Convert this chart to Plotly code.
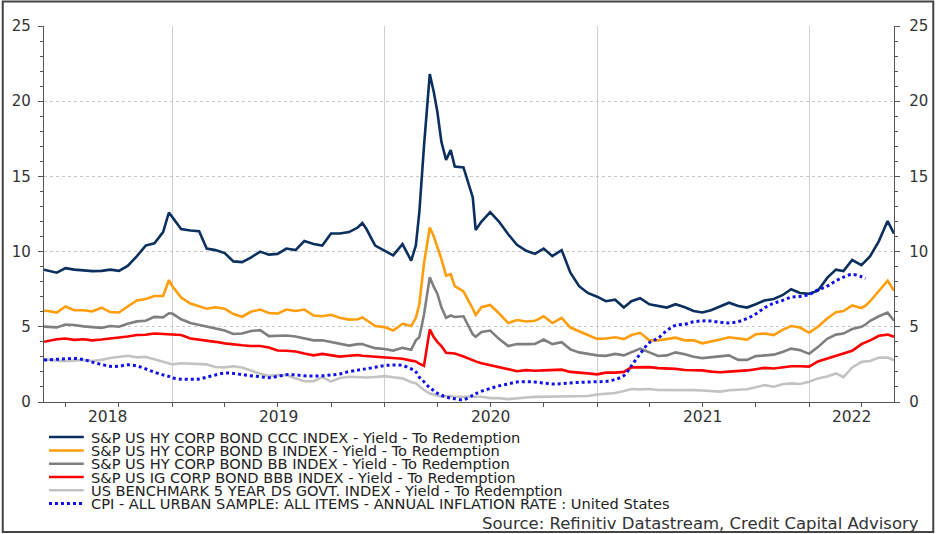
import pandas as pd
import plotly.graph_objects as go

# Observation dates (roughly semi-monthly, denser around the March 2020 spike)
dates = [
    "2018-05-25", "2018-06-01", "2018-06-16", "2018-07-01", "2018-07-16", "2018-08-01", "2018-08-16", "2018-09-01",
    "2018-09-16", "2018-10-01", "2018-10-16", "2018-11-01", "2018-11-16", "2018-12-01", "2018-12-16", "2018-12-26",
    "2019-01-01", "2019-01-16", "2019-02-01", "2019-02-16", "2019-03-01", "2019-03-16", "2019-04-01", "2019-04-16",
    "2019-05-01", "2019-05-16", "2019-06-01", "2019-06-16", "2019-07-01", "2019-07-16", "2019-08-01", "2019-08-16",
    "2019-09-01", "2019-09-16", "2019-10-01", "2019-10-16", "2019-11-01", "2019-11-16", "2019-11-24", "2019-12-01",
    "2019-12-16",
    "2020-01-01", "2020-01-16", "2020-02-01", "2020-02-16", "2020-02-24", "2020-03-01", "2020-03-09", "2020-03-19",
    "2020-03-26", "2020-04-01", "2020-04-08", "2020-04-16", "2020-04-24", "2020-05-01", "2020-05-16", "2020-06-01",
    "2020-06-06", "2020-06-16", "2020-07-01", "2020-07-16", "2020-08-01", "2020-08-16", "2020-09-01", "2020-09-16",
    "2020-10-01", "2020-10-16", "2020-11-01", "2020-11-16", "2020-12-01", "2020-12-16",
    "2021-01-01", "2021-01-16", "2021-02-01", "2021-02-16", "2021-03-01", "2021-03-16", "2021-04-01", "2021-04-16",
    "2021-05-01", "2021-05-16", "2021-06-01", "2021-06-16", "2021-07-01", "2021-07-16", "2021-08-01", "2021-08-16",
    "2021-09-01", "2021-09-16", "2021-10-01", "2021-10-16", "2021-11-01", "2021-11-16", "2021-12-01", "2021-12-16",
    "2022-01-01", "2022-01-16", "2022-02-01", "2022-02-16", "2022-03-01", "2022-03-16", "2022-04-01", "2022-04-08",
    "2022-04-16", "2022-05-01", "2022-05-16", "2022-05-27",
]

ccc = [
    8.8, 8.75, 8.6, 8.9, 8.8, 8.75, 8.7, 8.72, 8.8, 8.72, 9.05, 9.7, 10.4, 10.55, 11.3, 12.6,
    12.3, 11.5, 11.4, 11.35, 10.2, 10.1, 9.9, 9.35, 9.3, 9.6, 10.0, 9.8, 9.85, 10.2, 10.1, 10.7,
    10.5, 10.4, 11.2, 11.2, 11.3, 11.6, 11.9, 11.5, 10.4,
    10.05, 9.75, 10.5, 9.4, 10.4, 12.6, 17.0, 21.8, 20.6, 19.3, 17.3, 16.1, 16.75, 15.65, 15.6, 13.6,
    11.44, 12.0, 12.62, 12.0, 11.15, 10.45, 10.05, 9.85, 10.2, 9.7, 10.1, 8.6, 7.7, 7.25,
    7.0, 6.7, 6.8, 6.28, 6.7, 6.9, 6.5, 6.38, 6.28, 6.5, 6.3, 6.05, 5.95, 6.1, 6.35, 6.6,
    6.38, 6.28, 6.5, 6.75, 6.85, 7.1, 7.5, 7.25,
    7.2, 7.4, 8.25, 8.8, 8.7, 9.44, 9.1, 9.4, 9.7, 10.7, 12.03, 11.2,
]

hy_b = [
    6.07, 6.05, 5.95, 6.35, 6.1, 6.1, 6.02, 6.27, 5.98, 5.95, 6.35, 6.75, 6.85, 7.05, 7.05, 8.1,
    7.7, 6.95, 6.55, 6.35, 6.2, 6.3, 6.2, 5.85, 5.67, 6.0, 6.15, 5.92, 5.88, 6.15, 6.05, 6.15,
    5.75, 5.7, 5.8, 5.6, 5.48, 5.5, 5.62, 5.45, 5.05,
    4.98, 4.75, 5.2, 5.05, 5.6, 6.5, 9.2, 11.6, 11.0, 10.3, 9.5, 8.4, 8.5, 7.7, 7.35, 6.2,
    5.78, 6.3, 6.45, 5.9, 5.25, 5.45, 5.35, 5.4, 5.7, 5.25, 5.6, 4.95, 4.7, 4.42,
    4.2, 4.22, 4.3, 4.18, 4.45, 4.6, 4.1, 4.1, 4.17, 4.28, 4.1, 4.1, 3.9, 4.0, 4.15, 4.3,
    4.2, 4.15, 4.5, 4.55, 4.45, 4.8, 5.05, 4.95,
    4.6, 5.0, 5.55, 5.97, 6.05, 6.42, 6.25, 6.4, 6.7, 7.35, 8.07, 7.4,
]

hy_bb = [
    5.01, 5.0, 4.96, 5.15, 5.12, 5.03, 4.98, 4.93, 5.05, 5.0, 5.2, 5.36, 5.4, 5.66, 5.63, 5.9,
    5.88, 5.5, 5.25, 5.12, 5.0, 4.85, 4.75, 4.52, 4.55, 4.72, 4.78, 4.38, 4.4, 4.42, 4.35, 4.22,
    4.1, 4.1, 3.98, 3.85, 3.75, 3.85, 3.85, 3.75, 3.58,
    3.52, 3.42, 3.6, 3.48, 4.1, 4.3, 5.8, 8.29, 7.65, 7.2, 6.3, 5.6, 5.75, 5.65, 5.7, 4.5,
    4.34, 4.65, 4.75, 4.2, 3.72, 3.85, 3.85, 3.86, 4.15, 3.85, 3.98, 3.5, 3.3, 3.18,
    3.1, 3.07, 3.2, 3.1, 3.3, 3.55, 3.3, 3.06, 3.1, 3.3, 3.17, 3.01, 2.92, 2.98, 3.0, 3.1,
    2.8, 2.8, 3.05, 3.12, 3.15, 3.33, 3.55, 3.45,
    3.2, 3.65, 4.2, 4.48, 4.55, 4.85, 5.0, 5.15, 5.4, 5.7, 5.94, 5.4,
]

ig_bbb = [
    4.0, 4.05, 4.17, 4.22, 4.13, 4.17, 4.1, 4.15, 4.2, 4.3, 4.35, 4.45, 4.47, 4.55, 4.52, 4.5,
    4.5, 4.45, 4.22, 4.15, 4.12, 4.0, 3.9, 3.86, 3.77, 3.72, 3.72, 3.62, 3.42, 3.41, 3.36, 3.22,
    3.1, 3.2, 3.12, 3.02, 3.08, 3.12, 3.08, 3.06, 3.05,
    3.0, 2.95, 2.88, 2.75, 2.7, 2.55, 2.4, 4.83, 4.3, 4.0, 3.72, 3.28, 3.24, 3.22, 3.03, 2.75,
    2.7, 2.58, 2.45, 2.35, 2.17, 2.05, 2.12, 2.08, 2.1, 2.12, 2.15, 2.0, 1.93, 1.9,
    1.84, 1.95, 1.95, 2.0, 2.3, 2.32, 2.32, 2.25, 2.24, 2.2, 2.13, 2.13, 2.1, 2.02, 1.98, 2.02,
    2.05, 2.1, 2.18, 2.27, 2.23, 2.33, 2.38, 2.38,
    2.35, 2.7, 2.9, 3.1, 3.25, 3.4, 3.85, 3.95, 4.1, 4.4, 4.48, 4.34,
]

govt_5y = [
    2.84, 2.8, 2.75, 2.72, 2.77, 2.79, 2.73, 2.8, 2.93, 3.0, 3.07, 2.97, 3.0, 2.85, 2.7, 2.55,
    2.5, 2.58, 2.55, 2.5, 2.5, 2.33, 2.3, 2.38, 2.3, 2.1, 1.88, 1.74, 1.8, 1.78, 1.58, 1.38,
    1.38, 1.65, 1.36, 1.6, 1.68, 1.65, 1.63, 1.63, 1.66,
    1.72, 1.64, 1.57, 1.32, 1.25, 1.05, 0.8, 0.56, 0.48, 0.42, 0.36, 0.38, 0.4, 0.35, 0.34, 0.32,
    0.33, 0.35, 0.26, 0.26, 0.19, 0.26, 0.3, 0.34, 0.35, 0.38, 0.38, 0.36, 0.4, 0.4,
    0.5, 0.57, 0.6, 0.73, 0.86, 0.84, 0.86, 0.8, 0.8, 0.82, 0.81, 0.79, 0.76, 0.72, 0.69, 0.78,
    0.82, 0.85, 0.98, 1.12, 1.02, 1.18, 1.24, 1.2,
    1.35, 1.57, 1.7, 1.9, 1.65, 2.3, 2.67, 2.7, 2.73, 2.95, 2.95, 2.78,
]

cpi = [
    2.79, 2.8, 2.84, 2.87, 2.9, 2.82, 2.65, 2.5, 2.37, 2.38, 2.47, 2.4, 2.2, 1.98, 1.8, 1.7,
    1.6, 1.52, 1.51, 1.53, 1.65, 1.8, 1.92, 1.9, 1.82, 1.74, 1.68, 1.62, 1.7, 1.82, 1.8, 1.74,
    1.73, 1.74, 1.8, 1.86, 2.02, 2.12, 2.17, 2.21, 2.31,
    2.42, 2.46, 2.43, 2.2, 2.0, 1.65, 1.35, 0.95, 0.75, 0.58, 0.45, 0.34, 0.26, 0.22, 0.16, 0.45,
    0.55, 0.72, 0.9, 1.07, 1.2, 1.33, 1.35, 1.33, 1.26, 1.2, 1.22, 1.27, 1.3, 1.33,
    1.35, 1.37, 1.5, 1.75, 2.4, 3.2, 3.95, 4.25, 4.75, 5.1, 5.17, 5.33, 5.39, 5.38, 5.3, 5.26,
    5.35, 5.55, 5.85, 6.26, 6.56, 6.75, 6.97, 7.02,
    7.15, 7.45, 7.7, 8.05, 8.3, 8.48, 8.33, 8.22, None, None, None, None,
]

for s in (ccc, hy_b, hy_bb, ig_bbb, govt_5y, cpi):
    assert len(s) == len(dates), len(s)

names = [
    "S&P US HY CORP BOND CCC INDEX - Yield - To Redemption",
    "S&P US HY CORP BOND B INDEX - Yield - To Redemption",
    "S&P US HY CORP BOND BB INDEX - Yield - To Redemption",
    "S&P US IG CORP BOND BBB INDEX - Yield - To Redemption",
    "US BENCHMARK 5 YEAR DS GOVT. INDEX - Yield - To Redemption",
    "CPI - ALL URBAN SAMPLE: ALL ITEMS - ANNUAL INFLATION RATE : United States",
]
series = [ccc, hy_b, hy_bb, ig_bbb, govt_5y, cpi]
colors = ["#0b2f5e", "#ff9d0a", "#7f7f7f", "#ff0000", "#c3c3c3", "#1010ee"]
dashes = ["solid", "solid", "solid", "solid", "solid", "dot"]
year_labels = ["2018", "2019", "2020", "2021", "2022"]
x_range = ["2018-05-25", "2022-05-27"]
source = "Source: Refinitiv Datastream, Credit Capital Advisory"

FONT = "DejaVu Sans, Liberation Sans, Arial, sans-serif"
W, H = 940, 534
L, R, T, B = 43, 42, 26, 132
PW, PH = W - L - R, H - T - B


def px_x(p):
    return (p - L) / PW


def px_y(p):
    return (H - B - p) / PH


fig = go.Figure()

# draw order: light lines first, CPI on top
for i in [4, 3, 2, 1, 0, 5]:
    fig.add_trace(go.Scatter(
        x=dates, y=series[i], mode="lines", name=names[i],
        line=dict(color=colors[i], width=3 if i == 5 else 2.6, dash=dashes[i],
                  shape="spline" if i == 5 else "linear"),
        connectgaps=False, showlegend=False,
    ))

# invisible trace so the right-hand axis is drawn
fig.add_trace(go.Scatter(x=[dates[0]], y=[0], yaxis="y2", mode="markers",
                         marker=dict(opacity=0), showlegend=False, hoverinfo="skip"))

yax = dict(range=[0, 25], dtick=5, ticks="outside", ticklen=5, tickcolor="#555",
           showline=True, linecolor="#555", linewidth=1.3,
           showgrid=True, gridcolor="#c8c8c8", griddash="dot", gridwidth=1,
           zeroline=False, tickfont=dict(family=FONT, size=15, color="#333"),
           ticklabelstandoff=4,
           minor=dict(dtick=1, ticks="outside", ticklen=3, tickcolor="#555", showgrid=False))

fig.update_layout(
    width=W, height=H,
    margin=dict(l=L, r=R, t=T, b=B),
    paper_bgcolor="white", plot_bgcolor="white",
    font=dict(family=FONT, color="#222"),
    xaxis=dict(type="date", range=x_range, tick0="2019-01-01", dtick="M12",
               showticklabels=False, ticks="outside", ticklen=4, tickcolor="#555",
               showline=True, linecolor="#555", linewidth=1.3,
               showgrid=True, gridcolor="#d0d0d0", gridwidth=1, zeroline=False,
               minor=dict(dtick="M3", ticks="outside", ticklen=4, tickcolor="#555", showgrid=False)),
    yaxis=yax,
    yaxis2=dict(yax, overlaying="y", side="right", showgrid=False, ticklabelstandoff=6),
    hovermode=False,
)

# year labels centred on the visible part of each year
lo, hi = pd.Timestamp(x_range[0]), pd.Timestamp(x_range[1])
for lab in year_labels:
    a = max(pd.Timestamp(f"{lab}-01-01"), lo)
    b = min(pd.Timestamp(f"{int(lab) + 1}-01-01"), hi)
    mid = a + (b - a) / 2
    fig.add_annotation(x=mid.strftime("%Y-%m-%d"), y=0, xref="x", yref="paper",
                       text=lab, showarrow=False, yanchor="middle", yshift=-15,
                       font=dict(family=FONT, size=15.5, color="#333"))

# legend block under the chart
row_y = [437, 450.5, 463.7, 477, 490.3, 503.6]
for i, name in enumerate(names):
    fig.add_shape(type="line", xref="paper", yref="paper",
                  x0=px_x(48), x1=px_x(83), y0=px_y(row_y[i]), y1=px_y(row_y[i]),
                  line=dict(color=colors[i], width=3 if i == 5 else 2.6, dash=dashes[i]))
    fig.add_annotation(x=px_x(88), y=px_y(row_y[i]), xref="paper", yref="paper",
                       text=name, showarrow=False, xanchor="left", yanchor="middle",
                       font=dict(family=FONT, size=14.6, color="#222"))

fig.add_annotation(x=px_x(925), y=px_y(523), xref="paper", yref="paper",
                   text=source, showarrow=False, xanchor="right", yanchor="middle",
                   font=dict(family=FONT, size=16.5, color="#333"))

# outer frame
fig.add_shape(type="rect", xref="paper", yref="paper",
              x0=px_x(1.5), x1=px_x(937.5), y0=px_y(532), y1=px_y(1.5),
              line=dict(color="#444", width=2), fillcolor="rgba(0,0,0,0)", layer="above")

fig.write_html("out.html", config={"displayModeBar": False},
               post_script="document.body.style.margin='0';document.body.style.padding='0';")
